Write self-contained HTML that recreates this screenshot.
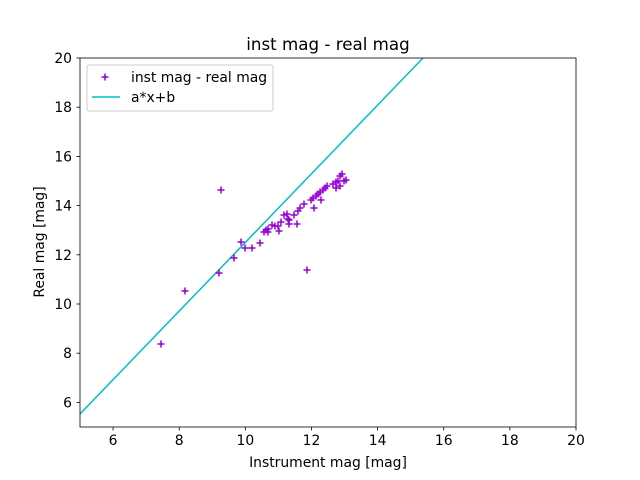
<!DOCTYPE html>
<html><head><meta charset="utf-8"><style>body{margin:0;background:#fff}svg{display:block;font-family:"DejaVu Sans","Liberation Sans",sans-serif}</style></head><body>
<svg width="640" height="480" viewBox="0 0 640 480" xmlns="http://www.w3.org/2000/svg">
<rect width="640" height="480" fill="#fff"/>
<defs><clipPath id="c"><rect x="80" y="58" width="496" height="369"/></clipPath></defs>
<line x1="80" y1="414" x2="423" y2="58" stroke="#00bfbf" stroke-width="1.5" clip-path="url(#c)"/>
<g stroke="#9400d3" stroke-width="1.5" id="pts"></g>
<rect x="80" y="58" width="496" height="369" fill="none" stroke="#000" stroke-width="0.8"/>
<g stroke="#000" stroke-width="0.8" id="ticks"></g>
<g font-size="13.9" fill="#000" id="lbl"></g>
<text x="328" y="467" font-size="13.9" text-anchor="middle">Instrument mag [mag]</text>
<text x="44" y="242" font-size="13.9" text-anchor="middle" transform="rotate(-90 44 242)">Real mag [mag]</text>
<text x="328" y="50" font-size="16.7" text-anchor="middle">inst mag - real mag</text>
<rect x="87" y="65" width="186" height="46" fill="#fff" stroke="#ccc" rx="2"/>
<g stroke="#9400d3" stroke-width="1.5"><line x1="101.5" y1="77" x2="108.5" y2="77"/><line x1="105" y1="73.5" x2="105" y2="80.5"/></g>
<line x1="92" y1="97" x2="120" y2="97" stroke="#00bfbf" stroke-width="1.5"/>
<text x="131" y="82" font-size="13.9">inst mag - real mag</text>
<text x="131" y="102" font-size="13.9">a*x+b</text>
</svg>
<script>
var P=[[161,344],[185,291],[219,273],[221,190],[234,258],[241,242],[245,248],[252,248],[260,243],[264,232],[266,230],[268,229],[272,225],[275,226],[278,226],[279,231],[281,222],[284,215],[288,219],[289,224],[287,214],[297,224],[298,211],[300,208],[304,204],[307,270],[311,200],[313,198],[314,208],[316,196],[318,194],[320,192],[321,200],[323,190],[325,188],[327,186],[333,184],[336,182],[338,181],[340,186],[336,188],[340,176],[342,174],[344,181],[346,180],[289,220],[294,215],[268,232]];
var g=document.getElementById("pts"),h="";
P.forEach(function(p){h+='<line x1="'+(p[0]-3.5)+'" y1="'+p[1]+'" x2="'+(p[0]+3.5)+'" y2="'+p[1]+'"/><line x1="'+p[0]+'" y1="'+(p[1]-3.5)+'" x2="'+p[0]+'" y2="'+(p[1]+3.5)+'"/>';});
g.innerHTML=h;
var t="",l="";
for(var v=6;v<=20;v+=2){var x=80+(v-5)*496/15;t+='<line x1="'+x+'" y1="427" x2="'+x+'" y2="430.5"/>';l+='<text x="'+x+'" y="445" text-anchor="middle">'+v+'</text>';
var y=427-(v-5)*369/15;t+='<line x1="76.5" y1="'+y+'" x2="80" y2="'+y+'"/>';l+='<text x="72" y="'+(y+5)+'" text-anchor="end">'+v+'</text>';}
document.getElementById("ticks").innerHTML=t;document.getElementById("lbl").innerHTML=l;
</script>
</body></html>
